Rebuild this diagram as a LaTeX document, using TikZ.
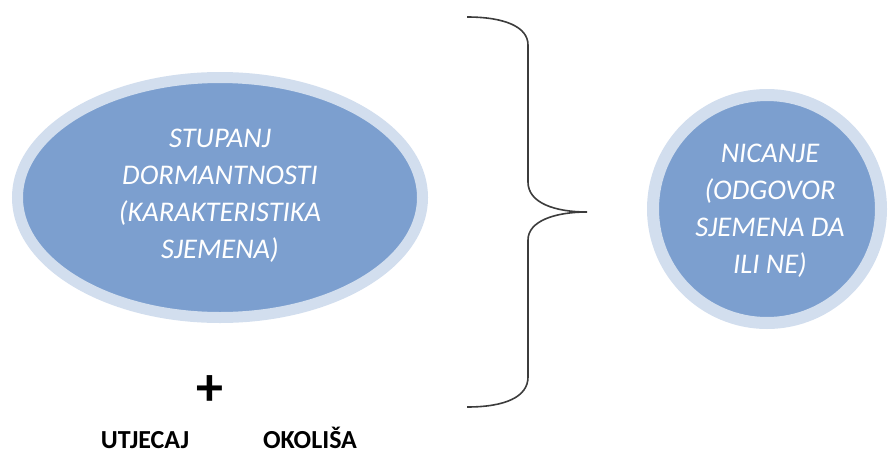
\documentclass[tikz,border=0pt]{standalone}
\usepackage{fontspec}
\setmainfont{Carlito}
\usetikzlibrary{shapes.geometric}

\definecolor{seedblue}{RGB}{124,159,207}
\definecolor{seedring}{RGB}{210,222,238}
\definecolor{bracegray}{RGB}{60,60,60}

\begin{document}
\begin{tikzpicture}[x=1pt,y=-1pt]

\useasboundingbox (0,0) rectangle (888,461);

\begin{scope}[
    every node/.style={
        fill=seedblue,
        draw=seedring,
        line width=11pt,
        inner sep=0pt}]

    \node (dormancy) at (220,197.5) [ellipse, minimum width=405, minimum height=240] {};
    \node (emergence) at (767,209) [circle, line width=12pt, minimum size=228] {};
\end{scope}


\begin{scope}[
    every node/.style={
        text=white,
        align=center,
        font=\itshape\fontsize{28.5}{37}\selectfont}]

    \node (dormancytext) at (220,196) {STUPANJ\\DORMANTNOSTI\\(KARAKTERISTIKA\\SJEMENA)};
    \node (emergencetext) at (770,211) {NICANJE\\(ODGOVOR\\SJEMENA DA\\ILI NE)};
\end{scope}

% viticasta zagrada
\draw [bracegray, line width=1.6pt]
    (467,17) .. controls (505,17) and (528,27) .. (528,45)
    -- (528,182) .. controls (528,203) and (555,212) .. (587,212)
    .. controls (555,212) and (528,221) .. (528,240)
    -- (528,377) .. controls (528,397) and (505,407) .. (467,407);

\begin{scope}[every node/.style={anchor=base, font=\bfseries\fontsize{26}{30}\selectfont}]
    \node (plus) at (210,405) [font=\bfseries\fontsize{54}{54}\selectfont] {+};
    \node (influence) at (145,448) {UTJECAJ};
    \node (environment) at (310,448) {OKOLIŠA};
\end{scope}

\end{tikzpicture}
\end{document}
